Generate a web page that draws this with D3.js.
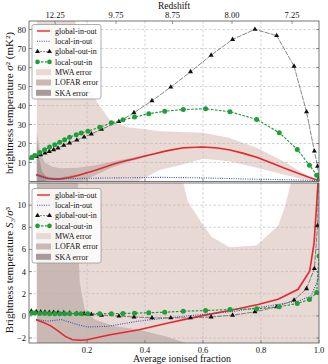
<!DOCTYPE html>
<html>
<head>
<meta charset="utf-8">
<script src="https://cdn.jsdelivr.net/npm/d3@7"></script>
<style>
body { margin: 0; background: #fff; }
text { font-family: "Liberation Serif", "DejaVu Serif", serif; fill: #111; }
</style>
</head>
<body>
<svg id="chart" width="328" height="364"></svg>
<script>
// ionised fraction grids and values

// global-in-out (red)
var redTopFrac = [0.025,0.04,0.066,0.09,0.111,0.14,0.169,0.2,0.226,0.26,0.295,0.33,0.364,0.4,0.433,0.47,0.532,0.601,0.65,0.693,0.74,0.785,0.83,0.877,0.93,0.97,1.0];
var redTop = [3.7,2.9,1.6,1.2,1.4,2.1,3.2,4.6,5.8,7.5,9.3,10.8,12,13.4,14.6,16,17.8,18.2,17.6,16.6,14.8,12.8,10.1,7.2,4.2,2,0.5];
var redBotFrac = [0.025,0.05,0.075,0.1,0.125,0.15,0.18,0.2,0.28,0.38,0.48,0.594,0.709,0.79,0.859,0.928,0.968,0.983,0.991,0.997,1.0];
var redBot = [-0.36,-0.6,-0.9,-1.35,-1.85,-2.15,-2.2,-2.15,-1.7,-1.25,-0.65,0,0.58,1.03,1.5,2.4,4.06,6.6,9.7,12.2,14];

// local-in-out (blue dotted)
var blueTopFrac = [0.025,0.05,0.08,0.12,0.2,0.3,0.45,0.6,0.75,0.9,1.0];
var blueTop = [3.2,2.0,1.4,1.4,1.7,1.9,2.2,1.9,1.3,0.9,0.5];
var blueBotFrac = [0.025,0.066,0.111,0.169,0.203,0.272,0.376,0.479,0.594,0.709,0.824,0.928,0.973,0.997,1.0];
var blueBot = [-0.33,-0.48,-0.33,-0.8,-1.0,-0.94,-0.48,-0.18,0.12,0.42,0.88,1.33,1.8,3.3,5];

// global-out-in (black triangles)
var blackFrac = [0.008,0.025,0.04,0.055,0.07,0.085,0.1,0.12,0.14,0.165,0.19,0.215,0.25,0.31,0.362,0.424,0.489,0.557,0.628,0.702,0.779,0.854,0.914,0.957,0.984,0.995,1.0];
var blackTop = [12.3,13.2,14.1,15,15.8,16.7,17.6,19,20.3,21.8,23.4,25,27.5,31.5,36.2,42.5,49.7,57.8,66.5,74.8,80.1,76.8,60.7,36.7,16,8,2];
var blackBot = [0.42,0.38,0.35,0.33,0.32,0.31,0.3,0.28,0.26,0.23,0.19,0.14,0.06,-0.02,-0.1,-0.18,-0.18,-0.18,-0.1,0.06,0.36,0.82,1.42,2.45,4.27,8.15,14];

// local-out-in (green circles)
var greenFrac = [0.01,0.02,0.037,0.054,0.071,0.089,0.106,0.123,0.14,0.163,0.18,0.203,0.244,0.284,0.324,0.364,0.413,0.468,0.532,0.609,0.693,0.785,0.863,0.925,0.967,0.992,1.0];
var greenTop = [12.8,13.7,15.3,16.7,18.1,19.3,20.7,22,23.3,24.6,25.5,26.5,28.6,30.9,32.5,33.9,35.7,37,37.9,38.3,36.7,32.7,25.7,16.9,8.6,3.3,0.5];
var greenBot = [0.25,0.25,0.22,0.22,0.2,0.2,0.2,0.2,0.2,0.2,0.2,0.2,0.2,0.2,0.22,0.24,0.28,0.33,0.42,0.48,0.58,0.64,0.82,1.12,1.48,2.1,5.4];

// error bands, top panel
var mwaTopFrac = [0.027,0.1,0.16,0.18,0.2,0.234,0.28,0.34,0.4,0.45,0.53,0.6,0.69,0.785,0.877,0.95,1.0];
var mwaTopHi = [200,150,84,65,52,42,32,28.6,27.5,26.5,26,25.7,23,17.8,10.7,4,0.5];
var mwaTopLo = [-5,-5,-5,-5,-5,-4,-2,-3,2,6,9,12,10.7,7.2,3.7,1,0.5];
var lofarTopFrac = [0.027,0.04,0.054,0.08,0.111,0.169,0.226,0.284,0.341,0.4,0.5,0.6];
var lofarTopHi = [25.7,14.9,10,7.8,7,7.2,8.4,10.4,12.1,13.9,17.3,18.4];
var lofarTopLo = [-18,-9,-6,-5.2,-4.2,-0.8,3.2,7.2,10.3,12.9,16.7,18.0];
var skaTopFrac = [0.027,0.035,0.045,0.06,0.1,0.2];
var skaTopHi = [21.6,12,5,2.6,1.8,4.8];
var skaTopLo = [-5,-5,-2,0.8,1,4.4];

// error bands, bottom panel
var mwaBotFrac = [0.027,0.45,0.5,0.531,0.548,0.594,0.629,0.692,0.784,0.859,0.882,0.904,0.95,1.0];
var mwaBotHi = [40,40,20,12.1,10.3,8.45,7.15,6.2,6.35,8.15,9.8,12.1,20,40];
var mwaBotLo = [-5,-5,-5,-5,-5,-5,-5,-5,-5,-5,-5,-5,-5,-5];
var lofarBotFrac = [0.027,0.166,0.17,0.175,0.192,0.226,0.295,0.376,0.479,0.6];
var lofarBotHi = [40,40,6,3,0.57,-0.33,-0.94,-1.24,-1.9,-3];
var lofarBotLo = [-5,-5,-5,-5,-5,-5,-5,-5,-5,-5];

var redshiftFrac = [0.09,0.30,0.495,0.70,0.907];
var redshiftLabels = ["12.25","9.75","8.75","8.00","7.25"];
var topTicks = [10,20,30,40,50,60,70,80];
var botTicks = [-2,0,2,4,6,8,10];
var xTicks = [0.2,0.4,0.6,0.8,1.0];

var legendNames = ["global-in-out","local-in-out","global-out-in","local-out-in","MWA error","LOFAR error","SKA error"];

var colRed = "#e8262b", colBlue = "#3b4fb8", colBlack = "#111", colGreen = "#1f9e3a";
var colMWA = "#e8d9d5", colLOFAR = "#c9b8b4", colSKA = "#a89a99";

var svg = d3.select("#chart");
var left = 29, right = 319;
var x = d3.scaleLinear().domain([0, 1]).range([left, right]);
var yTop = d3.scaleLinear().domain([0, 84.5]).range([181.5, 21]);
var yBot = d3.scaleLinear().domain([-2.45, 12]).range([343, 183]);

function zip(f, v) { return f.map(function(d, i) { return [d, v[i]]; }); }

function panel(id, y, top, bottom, ticks, cfg) {
  var g = svg.append("g");
  g.append("clipPath").attr("id", id).append("rect")
    .attr("x", left).attr("y", top).attr("width", right - left).attr("height", bottom - top);
  var body = g.append("g").attr("clip-path", "url(#" + id + ")");

  cfg.bands.forEach(function(b) {
    var area = d3.area().x(function(d) { return x(d[0]); })
      .y0(function(d) { return y(d[2]); }).y1(function(d) { return y(d[1]); });
    var pts = b.f.map(function(d, i) { return [d, b.hi[i], b.lo[i]]; });
    body.append("path").attr("d", area(pts)).attr("fill", b.color);
  });

  // grid
  xTicks.slice(0, 4).forEach(function(t) {
    body.append("line").attr("x1", x(t)).attr("x2", x(t)).attr("y1", top).attr("y2", bottom)
      .attr("stroke", "#b5b5b5").attr("stroke-width", 0.6).attr("stroke-dasharray", "2.5,2");
  });
  ticks.forEach(function(t) {
    body.append("line").attr("x1", left).attr("x2", right).attr("y1", y(t)).attr("y2", y(t))
      .attr("stroke", "#b5b5b5").attr("stroke-width", 0.6).attr("stroke-dasharray", "2.5,2");
  });

  var line = d3.line().x(function(d) { return x(d[0]); }).y(function(d) { return y(d[1]); });

  body.append("path").attr("d", line(zip(cfg.redF, cfg.red))).attr("fill", "none")
    .attr("stroke", colRed).attr("stroke-width", 1.6);
  body.append("path").attr("d", line(zip(cfg.blueF, cfg.blue))).attr("fill", "none")
    .attr("stroke", colBlue).attr("stroke-width", 1.1).attr("stroke-dasharray", "1,1.3");

  var bl = zip(blackFrac, cfg.black);
  body.append("path").attr("d", line(bl)).attr("fill", "none")
    .attr("stroke", "#555").attr("stroke-width", 0.7).attr("stroke-dasharray", "5,1");
  body.selectAll(".tri").data(bl).enter().append("path")
    .attr("d", d3.symbol().type(d3.symbolTriangle).size(11))
    .attr("transform", function(d) { return "translate(" + x(d[0]) + "," + y(d[1]) + ")"; })
    .attr("fill", colBlack);

  var gr = zip(greenFrac, cfg.green);
  body.append("path").attr("d", line(gr)).attr("fill", "none")
    .attr("stroke", colGreen).attr("stroke-width", 1.2).attr("stroke-dasharray", "2.5,1.5");
  body.selectAll(".dot").data(gr).enter().append("circle")
    .attr("cx", function(d) { return x(d[0]); }).attr("cy", function(d) { return y(d[1]); })
    .attr("r", 2.5).attr("fill", colGreen);

  // frame
  g.append("rect").attr("x", left).attr("y", top).attr("width", right - left).attr("height", bottom - top)
    .attr("fill", "none").attr("stroke", "#555").attr("stroke-width", 0.8);

  // y ticks
  ticks.forEach(function(t) {
    g.append("line").attr("x1", left).attr("x2", left + 3).attr("y1", y(t)).attr("y2", y(t)).attr("stroke", "#555").attr("stroke-width", 0.6);
    g.append("line").attr("x1", right - 3).attr("x2", right).attr("y1", y(t)).attr("y2", y(t)).attr("stroke", "#555").attr("stroke-width", 0.6);
    g.append("text").attr("x", left - 3).attr("y", y(t) + 3).attr("text-anchor", "end")
      .attr("font-size", 8.5).text(String(t).replace("-", "\u2212"));
  });
  xTicks.forEach(function(t) {
    g.append("line").attr("x1", x(t)).attr("x2", x(t)).attr("y1", bottom).attr("y2", bottom - 3).attr("stroke", "#555").attr("stroke-width", 0.6);
  });

  // legend
  var lx = 32, ly = cfg.legendY;
  var lg = g.append("g");
  lg.append("rect").attr("x", lx).attr("y", ly).attr("width", 69).attr("height", 74.5).attr("rx", 2)
    .attr("fill", "#fff").attr("fill-opacity", 0.85).attr("stroke", "#999").attr("stroke-width", 0.8);
  legendNames.forEach(function(name, i) {
    var ry = ly + 6.5 + i * 10.3;
    if (i == 0) lg.append("line").attr("x1", 37).attr("x2", 50).attr("y1", ry).attr("y2", ry).attr("stroke", colRed).attr("stroke-width", 1.4);
    if (i == 1) lg.append("line").attr("x1", 37).attr("x2", 50).attr("y1", ry).attr("y2", ry).attr("stroke", colBlue).attr("stroke-width", 1.1).attr("stroke-dasharray", "1,1.3");
    if (i == 2) {
      lg.append("line").attr("x1", 37).attr("x2", 50).attr("y1", ry).attr("y2", ry).attr("stroke", "#555").attr("stroke-width", 0.7).attr("stroke-dasharray", "2,1");
      [37.5, 49.5].forEach(function(px) {
        lg.append("path").attr("d", d3.symbol().type(d3.symbolTriangle).size(11)).attr("transform", "translate(" + px + "," + ry + ")").attr("fill", colBlack);
      });
    }
    if (i == 3) {
      lg.append("line").attr("x1", 37).attr("x2", 50).attr("y1", ry).attr("y2", ry).attr("stroke", colGreen).attr("stroke-width", 1.2).attr("stroke-dasharray", "2.5,1.5");
      [37.5, 49.5].forEach(function(px) {
        lg.append("circle").attr("cx", px).attr("cy", ry).attr("r", 2.3).attr("fill", colGreen);
      });
    }
    if (i >= 4) {
      lg.append("rect").attr("x", 36).attr("y", ry - 3).attr("width", 15).attr("height", 6)
        .attr("fill", [colMWA, colLOFAR, colSKA][i - 4]);
    }
    lg.append("text").attr("x", 55).attr("y", ry + 2.8).attr("font-size", 8).text(name);
  });
}

panel("clipTop", yTop, 21, 181.5, topTicks, {
  bands: [
    { f: mwaTopFrac, hi: mwaTopHi, lo: mwaTopLo, color: colMWA },
    { f: lofarTopFrac, hi: lofarTopHi, lo: lofarTopLo, color: colLOFAR },
    { f: skaTopFrac, hi: skaTopHi, lo: skaTopLo, color: colSKA }
  ],
  redF: redTopFrac, red: redTop, blueF: blueTopFrac, blue: blueTop,
  black: blackTop, green: greenTop, legendY: 24.5
});

panel("clipBot", yBot, 183, 343, botTicks, {
  bands: [
    { f: mwaBotFrac, hi: mwaBotHi, lo: mwaBotLo, color: colMWA },
    { f: lofarBotFrac, hi: lofarBotHi, lo: lofarBotLo, color: colLOFAR }
  ],
  redF: redBotFrac, red: redBot, blueF: blueBotFrac, blue: blueBot,
  black: blackBot, green: greenBot, legendY: 188.5
});

// bottom x tick labels
xTicks.forEach(function(t) {
  svg.append("text").attr("x", x(t)).attr("y", 352.5).attr("text-anchor", "middle").attr("font-size", 8.5).text(t.toFixed(1));
});
// top redshift axis
redshiftFrac.forEach(function(f, i) {
  svg.append("line").attr("x1", x(f)).attr("x2", x(f)).attr("y1", 21).attr("y2", 24).attr("stroke", "#555").attr("stroke-width", 0.6);
  svg.append("text").attr("x", x(f)).attr("y", 18).attr("text-anchor", "middle").attr("font-size", 8.5).text(redshiftLabels[i]);
});
svg.append("text").attr("x", 174).attr("y", 8.5).attr("text-anchor", "middle").attr("font-size", 9.5).text("Redshift");

svg.append("text").attr("x", 182).attr("y", 362).attr("text-anchor", "middle").attr("font-size", 10).text("Average ionised fraction");

var yl1 = svg.append("text").attr("transform", "translate(13,103) rotate(-90)").attr("text-anchor", "middle").attr("font-size", 11);
yl1.append("tspan").text("brightness temperature ");
yl1.append("tspan").attr("font-style", "italic").text("σ");
yl1.append("tspan").text("² (mK²)");

var yl2 = svg.append("text").attr("transform", "translate(13,270) rotate(-90)").attr("text-anchor", "middle").attr("font-size", 11);
yl2.append("tspan").text("Brightness temperature ");
yl2.append("tspan").attr("font-style", "italic").text("S");
yl2.append("tspan").text("₃/");
yl2.append("tspan").attr("font-style", "italic").text("σ");
yl2.append("tspan").text("³");
</script>
</body>
</html>
